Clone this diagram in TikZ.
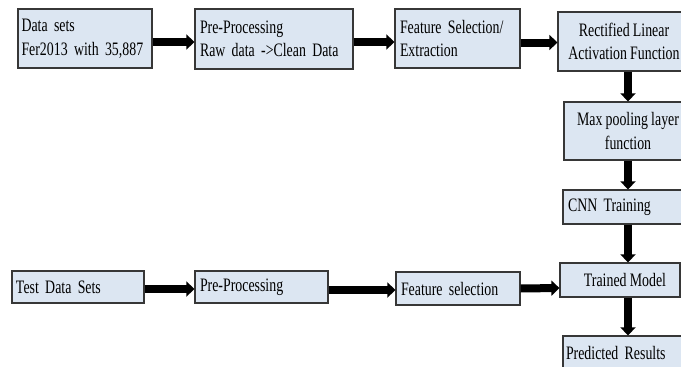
\documentclass[tikz,border=0pt]{standalone}
\usepackage{fontspec}
\setmainfont{Liberation Serif}[FakeStretch=0.73]
\usetikzlibrary{arrows.meta}
\definecolor{boxfill}{RGB}{220,230,242}
\definecolor{boxline}{RGB}{55,55,55}
\newcommand{\boxfont}{\fontsize{19}{23.5}\selectfont\fontdimen2\font=3.2pt\fontdimen3\font=0.5pt\fontdimen4\font=1pt\relax}
\tikzset{
  stepbox/.style={draw=boxline, fill=boxfill, line width=1.2pt, inner sep=0pt,
    font=\boxfont},
  lbox/.style={stepbox, align=left, text width=#1},
  cbox/.style={stepbox, align=center},
  fat/.style={line width=8pt, -{Triangle[length=8pt,width=15pt]}, draw=black}
}
\begin{document}
\begin{tikzpicture}[x=1pt,y=-1pt]
\useasboundingbox (0,0) rectangle (681,367);
\clip (0,0) rectangle (681,367);
% top row
\node[lbox=127pt, minimum width=134pt, minimum height=59pt] (A) at (85,38.5) {Data sets\\Fer2013 with 35,887};
\node[lbox=148pt, minimum width=158pt, minimum height=60pt] (B) at (274,39) {Pre-Processing\\Raw data ->Clean Data};
\node[lbox=115pt, minimum width=125pt, minimum height=59pt] (C) at (457.5,38.5) {Feature Selection/\\Extraction};
\node[cbox, minimum width=132pt, minimum height=59pt] (D) at (624,41.5) {Rectified Linear\\Activation Function};
% right column
\node[cbox, minimum width=128pt, minimum height=58pt] (E) at (628,131) {Max pooling layer\\function};
\node[lbox=120pt, minimum width=130pt, minimum height=34pt] (F) at (628,207) {CNN Training};
\node[cbox, minimum width=120pt, minimum height=34pt] (G) at (620,280) {\hspace*{10pt}Trained Model};
\node[lbox=124pt, minimum width=130pt, minimum height=34pt] (H) at (628,353) {Predicted Results};
% bottom row
\node[lbox=124pt, minimum width=132pt, minimum height=32pt] (I) at (78,287) {Test Data Sets};
\node[lbox=123pt, minimum width=133pt, minimum height=32pt] (J) at (261.5,287) {Pre-Processing};
\node[lbox=114pt, minimum width=124pt, minimum height=33pt] (K) at (458,288.5) {Feature selection};
\coordinate (col) at (628,0);
% arrows
\draw[fat] ([yshift=-3.5pt]A.east) -- ([yshift=-3pt]B.west);
\draw[fat] ([yshift=-3pt]B.east) -- ([yshift=-3.5pt]C.west);
\draw[fat] ([yshift=-4pt]C.east) -- ([yshift=-1pt]D.west);
\draw[fat] (D.south -| col) -- (E.north -| col);
\draw[fat] (E.south -| col) -- (F.north -| col);
\draw[fat] (F.south -| col) -- (G.north -| col);
\draw[fat] (G.south -| col) -- (H.north -| col);
\draw[fat] ([yshift=-2pt]I.east) -- ([yshift=-2pt]J.west);
\draw[fat] ([yshift=-3pt]J.east) -- ([yshift=-1.5pt]K.west);
\draw[fat] (K.east) -- ([yshift=-8pt]G.west);
\end{tikzpicture}
\end{document}
